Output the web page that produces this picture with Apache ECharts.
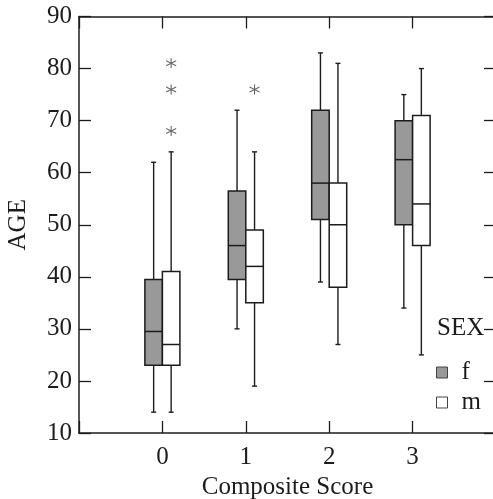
<!DOCTYPE html>
<html>
<head>
<meta charset="utf-8">
<script src="https://cdn.jsdelivr.net/npm/echarts@6/dist/echarts.min.js"></script>
<style>
  html, body { margin: 0; padding: 0; background: #fff; }
  #chart { width: 493px; height: 499px; }
</style>
</head>
<body>
<div id="chart"></div>
<script>
// composite score groups on the x axis
const categories = [0, 1, 2, 3]
const yTicks = [10, 20, 30, 40, 50, 60, 70, 80, 90]

// box stats per group: [low whisker, q1, median, q3, high whisker]
const femaleStats = [
  [14, 23, 29.5, 39.5, 62],
  [30, 39.5, 46, 56.5, 72],
  [39, 51, 58, 72, 83],
  [34, 50, 62.5, 70, 75]
]
const maleStats = [
  [14, 23, 27, 41, 64],
  [19, 35, 42, 49, 64],
  [27, 38, 50, 58, 81],
  [25, 46, 54, 71, 80]
]
// outliers (only in the m boxes): [score, age]
const maleOutliers = [[0, 81], [0, 76], [0, 68], [1, 76]]

const FONT = '"Liberation Serif", "DejaVu Serif", serif'
const INK = '#1c1c1c'
const GRAY = '#999999'

const lineStyle = { stroke: INK, lineWidth: 1.4 }

const boxRenderer = (side, fill) => (params, api) => {
  const x = api.value(0)
  const lo = api.coord([x, api.value(1)])
  const q1 = api.coord([x, api.value(2)])
  const md = api.coord([x, api.value(3)])
  const q3 = api.coord([x, api.value(4)])
  const hi = api.coord([x, api.value(5)])
  const w = api.size([1, 0])[0] * 0.21
  const x0 = side < 0 ? lo[0] - w : lo[0]
  const cx = x0 + w / 2
  const cap = 2.5
  return {
    type: 'group',
    children: [
      { type: 'line', shape: { x1: cx, y1: hi[1], x2: cx, y2: q3[1] }, style: lineStyle },
      { type: 'line', shape: { x1: cx, y1: q1[1], x2: cx, y2: lo[1] }, style: lineStyle },
      { type: 'line', shape: { x1: cx - cap, y1: hi[1], x2: cx + cap, y2: hi[1] }, style: lineStyle },
      { type: 'line', shape: { x1: cx - cap, y1: lo[1], x2: cx + cap, y2: lo[1] }, style: lineStyle },
      {
        type: 'rect',
        shape: { x: x0, y: q3[1], width: w, height: q1[1] - q3[1] },
        style: { fill: fill, stroke: INK, lineWidth: 1.5 }
      },
      { type: 'line', shape: { x1: x0, y1: md[1], x2: x0 + w, y2: md[1] }, style: { stroke: INK, lineWidth: 1.5 } }
    ]
  }
}

const toData = (stats) => categories.map((c, i) => [c].concat(stats[i]))

const axisCommon = {
  axisLine: { onZero: false, lineStyle: { color: INK, width: 1.5 } },
  axisTick: { inside: true, length: 12, lineStyle: { color: INK, width: 1.3 } },
  splitLine: { show: false }
}

const labelStyle = { fontFamily: FONT, fontSize: 25, color: INK }

const chart = echarts.init(document.getElementById('chart'))

chart.setOption({
  animation: false,
  backgroundColor: '#fff',
  grid: { left: 79, top: 16.5, right: -3, bottom: 66, containLabel: false, outerBoundsMode: 'none' },
  xAxis: [
    Object.assign({}, axisCommon, {
      type: 'value', position: 'bottom', min: -1, max: 4, interval: 1,
      axisLabel: Object.assign({}, labelStyle, {
        margin: 12,
        formatter: (v) => (categories.indexOf(v) >= 0 ? String(v) : '')
      }),
      name: 'Composite Score',
      nameLocation: 'middle',
      nameGap: 41,
      nameTextStyle: labelStyle
    }),
    Object.assign({}, axisCommon, {
      type: 'value', position: 'top', min: -1, max: 4, interval: 1,
      axisLabel: { show: false }
    })
  ],
  yAxis: [
    Object.assign({}, axisCommon, {
      type: 'value', position: 'left', min: yTicks[0], max: yTicks[yTicks.length - 1], interval: 10,
      axisLabel: Object.assign({}, labelStyle, { margin: 7 }),
      name: 'AGE',
      nameLocation: 'middle',
      nameGap: 48,
      nameTextStyle: labelStyle
    }),
    Object.assign({}, axisCommon, {
      type: 'value', position: 'right', min: yTicks[0], max: yTicks[yTicks.length - 1], interval: 10,
      axisLabel: { show: false }
    })
  ],
  legend: {
    orient: 'vertical',
    left: 431,
    top: 355,
    itemWidth: 11,
    itemHeight: 11,
    itemGap: 5,
    icon: 'rect',
    textStyle: Object.assign({}, labelStyle, { padding: [0, 0, 0, 9] }),
    data: [
      { name: 'f', itemStyle: { color: GRAY, borderColor: '#444', borderWidth: 1 } },
      { name: 'm', itemStyle: { color: '#fff', borderColor: '#444', borderWidth: 1 } }
    ]
  },
  graphic: [
    {
      type: 'text',
      left: 437,
      top: 316,
      style: { text: 'SEX', font: '25px ' + FONT, fill: INK }
    }
  ],
  series: [
    {
      name: 'f',
      type: 'custom',
      itemStyle: { color: GRAY },
      renderItem: boxRenderer(-1, GRAY),
      encode: { x: 0, y: [1, 2, 3, 4, 5] },
      data: toData(femaleStats)
    },
    {
      name: 'm',
      type: 'custom',
      itemStyle: { color: '#fff' },
      renderItem: boxRenderer(1, '#fff'),
      encode: { x: 0, y: [1, 2, 3, 4, 5] },
      data: toData(maleStats)
    },
    {
      name: 'm outliers',
      type: 'scatter',
      symbol: 'path://M0,-5L0,5M-4.33,-2.5L4.33,2.5M-4.33,2.5L4.33,-2.5',
      symbolSize: 10,
      symbolOffset: [8.75, 0],
      itemStyle: { color: 'none', borderColor: '#444', borderWidth: 1.1 },
      data: maleOutliers
    }
  ]
})
</script>
</body>
</html>
